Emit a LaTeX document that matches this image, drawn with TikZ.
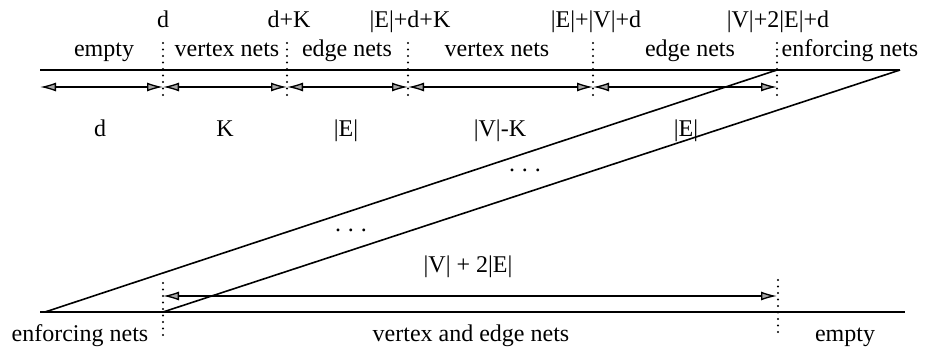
\documentclass[tikz,border=0pt]{standalone}
\usepackage{fontspec}
\setmainfont{Liberation Serif}
\usetikzlibrary{arrows.meta}
\begin{document}
\begin{tikzpicture}[x=1pt,y=-1pt,
  ln/.style={line width=1.6pt},
  dimarrow/.style={line width=1.3pt,{Latex[length=16pt,width=9pt,fill=gray!70]}-{Latex[length=16pt,width=9pt,fill=gray!70]}},
  tickline/.style={line width=2.4pt,dash pattern=on 0pt off 6.5pt,line cap=round},
  lbl/.style={font=\fontsize{24}{28}\selectfont,inner sep=0pt,anchor=base},
  dotsnode/.style={font=\fontsize{24}{28}\selectfont,inner sep=0pt}]
\useasboundingbox (0,0) rectangle (946,353);
% main lines
\coordinate (TL) at (40,70);
\coordinate (TR) at (900,70);
\coordinate (TA) at (777,70);
\coordinate (BL) at (40,312);
\coordinate (BR) at (905,312);
\coordinate (BA) at (45,312);
\coordinate (BB) at (163,312);
\draw[ln] (TL) -- (TR);
\draw[ln] (BL) -- (BR);
\draw[ln] (BA) -- (TA);
\draw[ln] (BB) -- (TR);
% top dimension arrows
\coordinate (a0) at (40,87);
\coordinate (a1) at (163,87);
\coordinate (a2) at (287,87);
\coordinate (a3) at (408,87);
\coordinate (a4) at (593,87);
\coordinate (a5) at (777,87);
\draw[dimarrow] (a0) -- (a1);
\draw[dimarrow] (a1) -- (a2);
\draw[dimarrow] (a2) -- (a3);
\draw[dimarrow] (a3) -- (a4);
\draw[dimarrow] (a4) -- (a5);
% top ticks
\foreach \x/\n in {163/t1,287/t2,408/t3,593/t4,777/t5}{
  \coordinate (\n a) at (\x,43);
  \coordinate (\n b) at (\x,99);
  \draw[tickline] (\n a) -- (\n b);
}
% bottom ticks and arrow
\coordinate (b1a) at (163,283);
\coordinate (b1b) at (163,338);
\coordinate (b2a) at (778,280);
\coordinate (b2b) at (778,334);
\draw[tickline] (b1a) -- (b1b);
\draw[tickline] (b2a) -- (b2b);
\coordinate (c0) at (163,296);
\coordinate (c1) at (777,296);
\draw[dimarrow] (c0) -- (c1);
% labels row 1
\node[lbl] (n1) at (163,28) {d};
\node[lbl] (n2) at (289,28) {d+K};
\node[lbl] (n3) at (410,28) {|E|+d+K};
\node[lbl] (n4) at (596,28) {|E|+|V|+d};
\node[lbl] (n5) at (778,28) {|V|+2|E|+d};
% labels row 2
\node[lbl] (r1) at (104,57) {empty};
\node[lbl] (r2) at (227,57) {vertex nets};
\node[lbl] (r3) at (347,57) {edge nets};
\node[lbl] (r4) at (497,57) {vertex nets};
\node[lbl] (r5) at (690,57) {edge nets};
\node[lbl] (r6) at (850,57) {enforcing nets};
% labels row 3
\node[lbl] (s1) at (100,136) {d};
\node[lbl] (s2) at (225,136) {K};
\node[lbl] (s3) at (346,136) {|E|};
\node[lbl] (s4) at (500,136) {|V|-K};
\node[lbl] (s5) at (686,136) {|E|};
% dots
\node[dotsnode] (d1) at (525,170) {.\hspace{7pt}.\hspace{7pt}.};
\node[dotsnode] (d2) at (351,230) {.\hspace{7pt}.\hspace{7pt}.};
% bottom labels
\node[lbl] (m1) at (468,272) {|V| + 2|E|};
\node[lbl] (e1) at (80,341) {enforcing nets};
\node[lbl] (e2) at (471,341) {vertex and edge nets};
\node[lbl] (e3) at (845,341) {empty};
\end{tikzpicture}
\end{document}
